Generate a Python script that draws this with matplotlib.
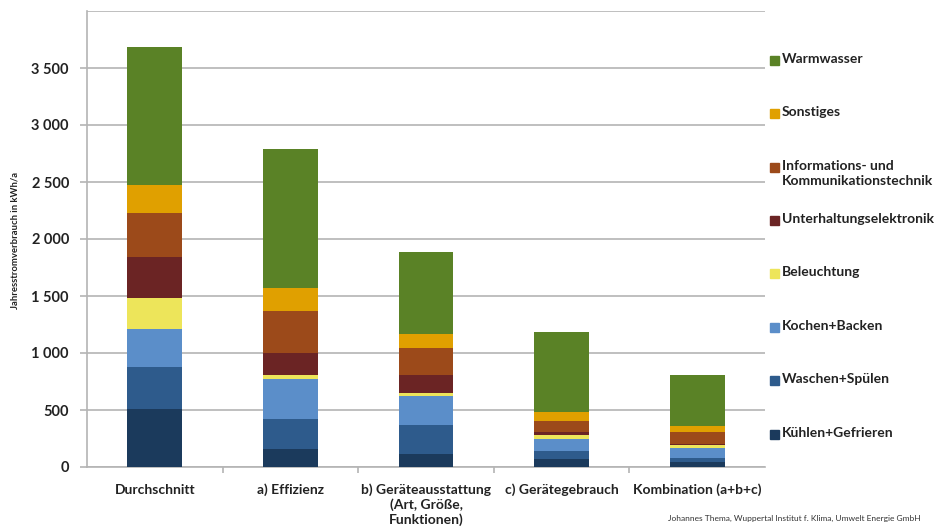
import numpy as np
import matplotlib.pyplot as plt
from matplotlib.patches import Rectangle

plt.rcParams['font.family'] = ['Lato', 'DejaVu Sans']

# Kategorien (x-Achse)
categories = ['Durchschnitt', 'a) Effizienz', 'b) Geräteausstattung\n(Art, Größe,\nFunktionen)',
              'c) Gerätegebrauch', 'Kombination (a+b+c)']

# Verbrauchsanteile in kWh/a, von unten nach oben gestapelt
kuehlen = [510, 160, 110, 70, 40]
waschen = [370, 260, 260, 70, 35]
kochen = [330, 350, 250, 110, 95]
beleuchtung = [270, 40, 30, 35, 25]
unterhaltung = [360, 190, 160, 20, 10]
ikt = [390, 370, 230, 95, 105]
sonstiges = [240, 200, 130, 80, 50]
warmwasser = [1210, 1220, 720, 700, 445]

series_names = ['Kühlen+Gefrieren', 'Waschen+Spülen', 'Kochen+Backen', 'Beleuchtung',
                'Unterhaltungselektronik', 'Informations- und\nKommunikationstechnik',
                'Sonstiges', 'Warmwasser']
series_values = [kuehlen, waschen, kochen, beleuchtung, unterhaltung, ikt, sonstiges, warmwasser]
colors = ['#1b3a5c', '#2e5b8c', '#5b8ec9', '#ede55a', '#6b2424', '#9c4a1a', '#e0a000', '#5a8226']

y_ticks = [0, 500, 1000, 1500, 2000, 2500, 3000, 3500]

fig = plt.figure(figsize=(9.36, 5.3), dpi=100)
ax = fig.add_axes([87 / 936, 1 - 467 / 530, (765 - 87) / 936, (467 - 11) / 530])

x = np.arange(len(categories))
bottom = np.zeros(len(categories))
for vals, col in zip(series_values, colors):
    ax.bar(x, vals, width=0.405, bottom=bottom, color=col, zorder=3)
    bottom += np.array(vals)

ax.set_xlim(-0.5, len(categories) - 0.5)
ax.set_ylim(0, 4000)

# Gitternetz
grid_col = '#b4b4b4'
ax.set_yticks(y_ticks)
ax.set_yticks([4000], minor=True)
ax.yaxis.grid(True, which='both', color=grid_col, linewidth=1.2, zorder=0)
ax.set_yticklabels([f'{v:,}'.replace(',', ' ') for v in y_ticks], fontsize=10.5,
                   fontweight='bold', color='#222222')
ax.tick_params(axis='y', which='major', length=5, color=grid_col, width=1.2, pad=8)
ax.tick_params(axis='y', which='minor', length=0)

# x-Achse: Ticks zwischen den Kategorien
ax.set_xticks(x)
ax.set_xticklabels(categories, fontsize=10, fontweight='bold', color='#222222', va='top')
ax.tick_params(axis='x', which='major', length=0, pad=12)
ax.set_xticks(np.arange(0.5, len(categories) - 0.5, 1), minor=True)
ax.tick_params(axis='x', which='minor', length=4, color=grid_col, width=1.2, direction='out')

for s in ['top', 'right']:
    ax.spines[s].set_visible(False)
for s in ['left', 'bottom']:
    ax.spines[s].set_color(grid_col)
    ax.spines[s].set_linewidth(1.2)

fig.text(15 / 936, 1 - 240 / 530, 'Jahresstromverbrauch in kWh/a', rotation=90,
         ha='center', va='center', fontsize=6.8, fontweight='bold', color='#222222')

# Legende (oben nach unten: Warmwasser ... Kühlen)
legend_y = [60, 113, 167, 220, 273, 327, 380, 434]
for name, col, yy in zip(series_names[::-1], colors[::-1], legend_y):
    fig.patches.append(Rectangle((770 / 936, 1 - (yy + 5) / 530), 9 / 936, 9 / 530,
                                 transform=fig.transFigure, color=col))
    fig.text(782 / 936, 1 - (yy - 7) / 530, name, ha='left', va='top', fontsize=10,
             fontweight='bold', color='#222222', linespacing=1.3)

fig.text(921 / 936, 1 - 518 / 530,
         'Johannes Thema, Wuppertal Institut f. Klima, Umwelt Energie GmbH',
         ha='right', va='center', fontsize=6.05, color='#333333')

fig.savefig('out.png', dpi=100)
